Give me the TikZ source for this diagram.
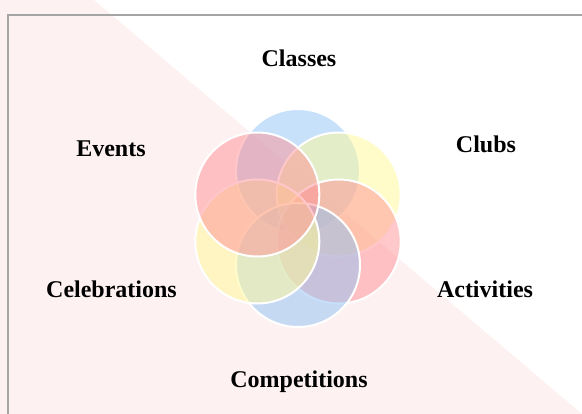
\documentclass[tikz,border=0pt]{standalone}
\usepackage{fontspec}
\setmainfont{Liberation Serif}
\definecolor{bgpink}{RGB}{253,241,241}
\definecolor{framegray}{RGB}{165,165,165}
\definecolor{cblue}{RGB}{145,195,245}
\definecolor{cyellow}{RGB}{255,249,150}
\definecolor{cred}{RGB}{255,145,150}
\tikzset{
  petal/.style={circle, inner sep=0pt, minimum size=93pt, draw=white, line width=1.5pt, fill opacity=0.5},
  lbl/.style={anchor=base, inner sep=0pt, font=\fontsize{18}{20}\selectfont\bfseries}
}
\begin{document}
\begin{tikzpicture}[x=0.75pt,y=-0.75pt]
\useasboundingbox (0,0) rectangle (582,414);
\clip (0,0) rectangle (582,414);
\fill[bgpink] (0,0) -- (94,0) -- (582,414) -- (0,414) -- cycle;
\draw[framegray, line width=1.5pt] (8.3,15.3) rectangle (600,430);
% petals
\node[petal, fill=cblue]   (top)    at (298,171) {};
\node[petal, fill=cyellow] (clubc)  at (338.7,194.5) {};
\node[petal, fill=cred]    (actc)   at (338.7,241.5) {};
\node[petal, fill=cblue]   (bot)    at (298,265) {};
\node[petal, fill=cyellow] (celc)   at (257.3,241.5) {};
\node[petal, fill=cred]    (evc)    at (257.3,194.5) {};
% labels
\node[lbl] (classes) at (299,66.7) {Classes};
\node[lbl] (clubs) at (486,152.3) {Clubs};
\node[lbl] (events) at (111,156.7) {Events};
\node[lbl] (celebrations) at (111.5,297) {Celebrations};
\node[lbl] (activities) at (485,297) {Activities};
\node[lbl] (competitions) at (299,387) {Competitions};
\end{tikzpicture}
\end{document}
